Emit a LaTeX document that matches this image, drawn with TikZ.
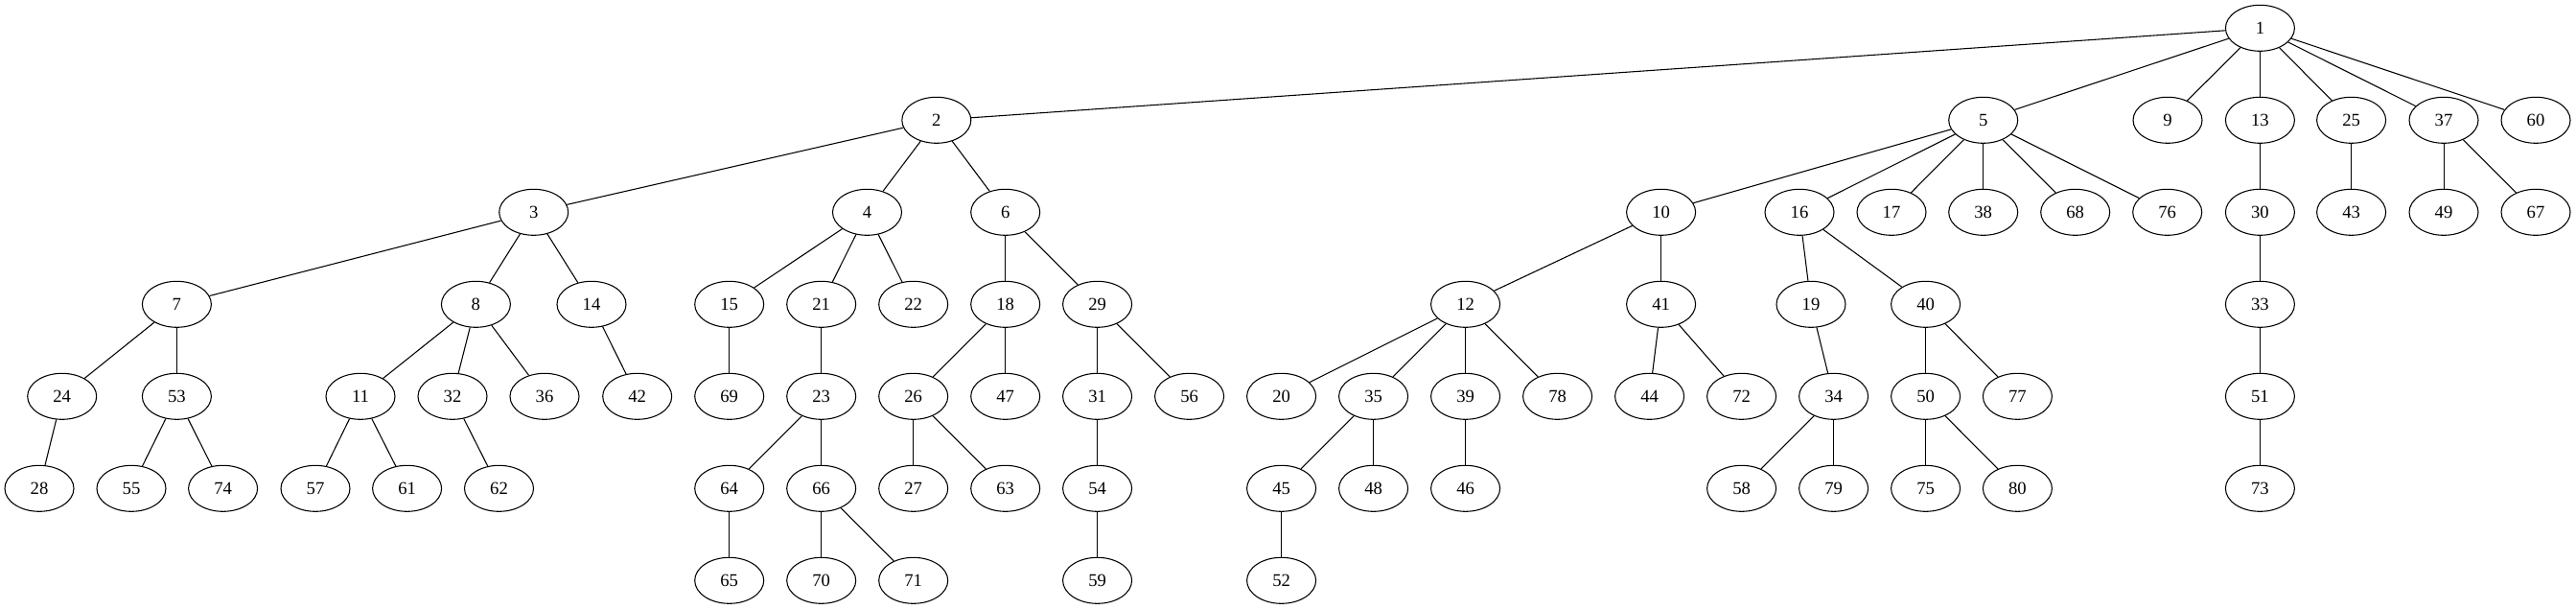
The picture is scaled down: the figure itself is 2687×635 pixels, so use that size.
\documentclass[tikz,border=0pt]{standalone}
\usepackage{fontspec}
\setmainfont{Liberation Serif}
\usetikzlibrary{shapes.geometric}
\tikzset{
  vnode/.style={draw, ellipse, line width=0.8pt, minimum width=54pt, minimum height=36pt, inner sep=0pt, font=\fontsize{14}{16}\selectfont},
  tedge/.style={line width=0.8pt}
}
\begin{document}
\begin{tikzpicture}[x=0.75pt, y=-0.75pt]
\useasboundingbox (0,0) rectangle (2687,635);
\foreach \n/\xx/\r in {
 1/2357.4/0,
 2/976.8/1, 5/2068.7/1, 9/2261/1, 13/2357.4/1, 25/2452.6/1, 37/2549/1, 60/2645/1,
 3/556.7/2, 4/904.5/2, 6/1048.7/2, 10/1732.6/2, 16/1877/2, 17/1973/2, 38/2068.7/2, 68/2164.7/2, 76/2260.7/2, 30/2357.4/2, 43/2452.6/2, 49/2549/2, 67/2645/2,
 7/184.4/3, 8/496.4/3, 14/617/3, 15/760.7/3, 21/856.7/3, 22/952.7/3, 18/1048.7/3, 29/1144.6/3, 12/1528.6/3, 41/1732.6/3, 19/1889/3, 40/2008.6/3, 33/2357.4/3,
 24/64.7/4, 53/184.4/4, 11/376/4, 32/472/4, 36/568/4, 42/664.7/4, 69/760.7/4, 23/856.7/4, 26/952.7/4, 47/1048.7/4, 31/1144.6/4, 56/1240.6/4, 20/1336.6/4, 35/1432.6/4, 39/1528.6/4, 78/1624.6/4, 44/1720.6/4, 72/1816.6/4, 34/1912.6/4, 50/2008.6/4, 77/2104.4/4, 51/2357.4/4,
 28/41/5, 55/137/5, 74/232.6/5, 57/329/5, 61/424.6/5, 62/520.5/5, 64/760.7/5, 66/856.7/5, 27/952.7/5, 63/1048.7/5, 54/1144.6/5, 45/1336.6/5, 48/1432.6/5, 46/1528.6/5, 58/1816.6/5, 79/1912.6/5, 75/2008.6/5, 80/2104.4/5, 73/2357.4/5,
 65/760.7/6, 70/856.7/6, 71/952.7/6, 59/1144.6/6, 52/1336.6/6}
 {\node[vnode] (n\n) at (\xx, 29.3+96*\r) {\n};}
\foreach \a/\b in {
 1/2, 1/5, 1/9, 1/13, 1/25, 1/37, 1/60,
 2/3, 2/4, 2/6,
 3/7, 3/8, 3/14,
 4/15, 4/21, 4/22,
 6/18, 6/29,
 5/10, 5/16, 5/17, 5/38, 5/68, 5/76,
 13/30, 25/43, 37/49, 37/67,
 7/24, 7/53, 8/11, 8/32, 8/36, 14/42, 15/69, 21/23, 18/26, 18/47, 29/31, 29/56,
 10/12, 10/41, 16/19, 16/40, 30/33,
 24/28, 53/55, 53/74, 11/57, 11/61, 32/62, 23/64, 23/66, 26/27, 26/63, 31/54,
 12/20, 12/35, 12/39, 12/78, 41/44, 41/72, 19/34, 40/50, 40/77, 33/51,
 64/65, 66/70, 66/71, 54/59, 35/45, 35/48, 39/46, 34/58, 34/79, 50/75, 50/80, 51/73, 45/52}
 {\draw[tedge] (n\a) -- (n\b);}
\end{tikzpicture}
\end{document}
